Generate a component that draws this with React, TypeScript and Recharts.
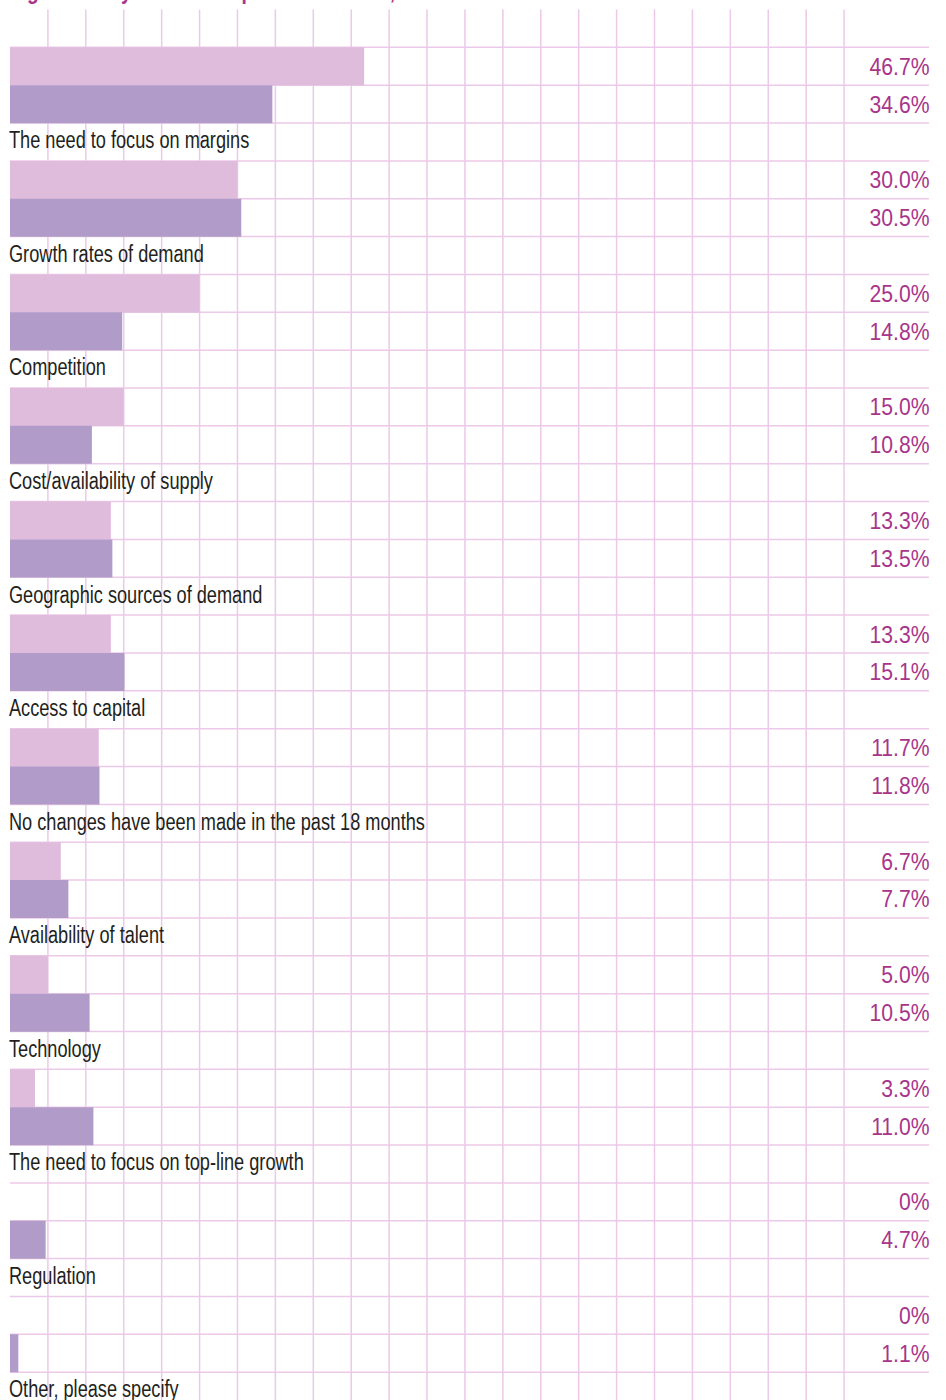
import { Bar, BarChart, CartesianGrid, Cell, XAxis, YAxis } from 'recharts';

const categories = [
  'The need to focus on margins',
  'Growth rates of demand',
  'Competition',
  'Cost/availability of supply',
  'Geographic sources of demand',
  'Access to capital',
  'No changes have been made in the past 18 months',
  'Availability of talent',
  'Technology',
  'The need to focus on top-line growth',
  'Regulation',
  'Other, please specify',
];
const recentShare = [46.7, 30.0, 25.0, 15.0, 13.3, 13.3, 11.7, 6.7, 5.0, 3.3, 0, 0];
const earlierShare = [34.6, 30.5, 14.8, 10.8, 13.5, 15.1, 11.8, 7.7, 10.5, 11.0, 4.7, 1.1];
const gridTicks = [5, 10, 15, 20, 25, 30, 35, 40, 45, 50, 55, 60, 65, 70, 75, 80, 85, 90, 95, 100, 105, 110];
const xMax = 121.2;

const pinkFill = '#dfbbdc';
const purpleFill = '#b19bc8';
const gridStroke = '#ecc9e8';
const valueColor = '#a8358a';
const font = "'Liberation Sans', Arial, sans-serif";

type Row = { key: string; kind: 'spacer' | 'recent' | 'earlier' | 'label'; value?: number; name?: string };

const rows: Row[] = [{ key: 'spacer', kind: 'spacer' }];
categories.forEach((name, i) => {
  rows.push({ key: `r${i}`, kind: 'recent', value: recentShare[i] });
  rows.push({ key: `e${i}`, kind: 'earlier', value: earlierShare[i] });
  rows.push({ key: `l${i}`, kind: 'label', name });
});
const byKey = new Map(rows.map((r) => [r.key, r]));

const fmt = (v: number) => (v === 0 ? '0%' : `${v.toFixed(1)}%`);

// the original uses a condensed grotesque; squeeze Liberation Sans to match
function CategoryTick({ x, y, payload }: any) {
  const row = byKey.get(payload.value);
  if (!row || row.kind !== 'label') return <g />;
  return (
    <text
      transform={`translate(${x - 1},${y}) scale(0.78,1)`}
      dy="0.27em"
      textAnchor="start"
      fontSize={23.3}
      fill="#231f20"
      fontFamily={font}
    >
      {row.name}
    </text>
  );
}

function ValueTick({ x, y, payload }: any) {
  const row = byKey.get(payload.value);
  if (!row || row.value === undefined) return <g />;
  return (
    <text
      transform={`translate(${x + 0.5},${y}) scale(0.9,1)`}
      dy="0.36em"
      textAnchor="end"
      fontSize={23.5}
      fill={valueColor}
      fontFamily={font}
    >
      {fmt(row.value)}
    </text>
  );
}

export default function App() {
  return (
    <div style={{ position: 'relative', width: 946, height: 1400, overflow: 'hidden', background: '#fff' }}>
      <style>{'body{margin:0}'}</style>
      <div
        style={{
          position: 'absolute',
          left: 10,
          top: -21,
          fontFamily: font,
          fontWeight: 'bold',
          fontSize: 24,
          lineHeight: '24px',
          color: valueColor,
          whiteSpace: 'nowrap',
          transform: 'scaleX(0.8)',
          transformOrigin: 'left top',
        }}
      >
        Figure 7: Key drivers of operational shifts, 2017 vs 2019
      </div>
      <BarChart
        width={946}
        height={1411}
        data={rows}
        layout="vertical"
        margin={{ top: 9.5, right: 17, bottom: 0, left: 10 }}
        barCategoryGap={0}
        barGap={0}
      >
        <CartesianGrid
          stroke={gridStroke}
          strokeWidth={1.5}
          yAxisId="left"
          verticalCoordinatesGenerator={({ xAxis, offset }: any) =>
            gridTicks.map((t) =>
              xAxis && typeof xAxis.scale === 'function'
                ? xAxis.scale(t)
                : offset.left + (offset.width * t) / xMax,
            )
          }
          horizontalCoordinatesGenerator={({ offset }: any) => {
            const h = offset.height / rows.length;
            return rows.slice(1).map((_, i) => offset.top + h * (i + 1));
          }}
        />
        <XAxis
          type="number"
          domain={[0, xMax]}
          ticks={gridTicks}
          height={1}
          tick={false}
          axisLine={false}
          tickLine={false}
          allowDataOverflow
        />
        <YAxis
          yAxisId="left"
          type="category"
          dataKey="key"
          width={1}
          mirror
          tickSize={0}
          tickMargin={0}
          axisLine={false}
          tickLine={false}
          interval={0}
          tick={<CategoryTick />}
        />
        <YAxis
          yAxisId="right"
          orientation="right"
          type="category"
          dataKey="key"
          width={1}
          mirror
          tickSize={0}
          tickMargin={0}
          axisLine={false}
          tickLine={false}
          interval={0}
          tick={<ValueTick />}
        />
        <Bar dataKey="value" yAxisId="left" isAnimationActive={false}>
          {rows.map((r) => (
            <Cell key={r.key} fill={r.kind === 'recent' ? pinkFill : purpleFill} />
          ))}
        </Bar>
      </BarChart>
    </div>
  );
}
